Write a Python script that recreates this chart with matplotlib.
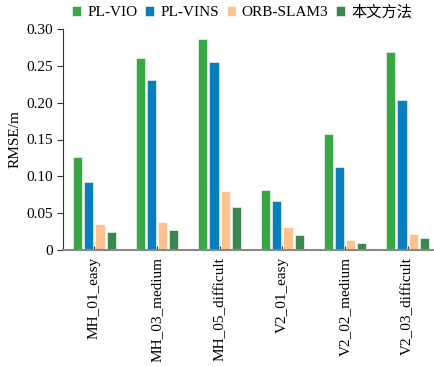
import numpy as np
import matplotlib
matplotlib.use('Agg')
import matplotlib.pyplot as plt

plt.rcParams['font.family'] = ['Liberation Serif', 'Noto Sans CJK SC']

datasets = ['MH_01_easy', 'MH_03_medium', 'MH_05_difficult',
            'V2_01_easy', 'V2_02_medium', 'V2_03_difficult']
methods = ['PL-VIO', 'PL-VINS', 'ORB-SLAM3', '本文方法']

pl_vio = [0.126, 0.261, 0.286, 0.081, 0.158, 0.269]
pl_vins = [0.092, 0.231, 0.255, 0.066, 0.113, 0.204]
orb_slam3 = [0.035, 0.038, 0.080, 0.031, 0.014, 0.022]
ours = [0.025, 0.027, 0.058, 0.020, 0.009, 0.016]

colors = ['#38a845', '#0a7dbd', '#fdc28f', '#3a8750']

fig = plt.figure(figsize=(4.34, 3.67), dpi=100)
ax = fig.add_axes([63 / 434, 1 - 250 / 367, 376 / 434, 221 / 367])

x = np.arange(len(datasets))
step = 0.18
width = 0.145
series = [pl_vio, pl_vins, orb_slam3, ours]
for i, vals in enumerate(series):
    ax.bar(x + (i - 1.5) * step, vals, width, color=colors[i],
           edgecolor='white', linewidth=0.4, label=methods[i], zorder=2)

ax.set_xlim(-0.5, 5.5)
ax.set_ylim(0, 0.30)
ax.set_yticks([0, 0.05, 0.10, 0.15, 0.20, 0.25, 0.30])
ax.set_yticklabels(['0', '0.05', '0.10', '0.15', '0.20', '0.25', '0.30'], fontsize=11)
ax.set_xticks(x)
ax.set_xticklabels(datasets, rotation=90, fontsize=11)
ax.tick_params(axis='x', direction='in', length=3, width=1, color='#333333', pad=5)
ax.tick_params(axis='y', direction='out', length=4, width=0.8, color='#333333')
ax.set_ylabel('RMSE/m', fontsize=11, labelpad=3)

for s in ['top', 'right']:
    ax.spines[s].set_visible(False)
ax.spines['bottom'].set_color('#888888')
ax.spines['bottom'].set_linewidth(1.5)
ax.spines['left'].set_color('#333333')
ax.spines['left'].set_linewidth(0.8)

fig.legend(loc='upper center', bbox_to_anchor=(0.558, 1.025), ncol=4, frameon=False,
           fontsize=11, handlelength=0.6, handleheight=0.6, handletextpad=0.4,
           columnspacing=0.5)

fig.savefig('out.png', dpi=100)
